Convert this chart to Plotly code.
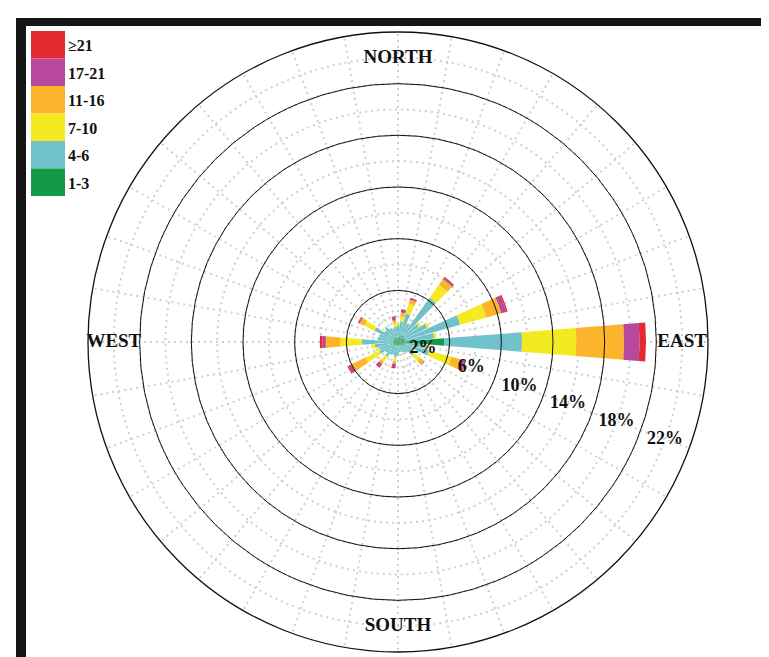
import plotly.graph_objects as go

# ---------------- data ----------------
directions = list(range(0, 360, 10))  # compass bearing, degrees
speed_classes = ["1-3", "4-6", "7-10", "11-16", "17-21", "≥21"]
class_colors = ["#139a48", "#6fc2c9", "#f4ea22", "#fbb42b", "#b8489d", "#e42a2e"]

# frequency (%) contributed by each speed class, per direction
s_1_3 = [0.4, 0.4, 0.5, 0.4, 0.6, 0.4, 0.5, 0.6, 0.5, 3.6, 0.5, 0.5,
         0.4, 0.4, 0.4, 0.3, 0.3, 0.3, 0.3, 0.3, 0.3, 0.3, 0.4, 0.4,
         0.4, 0.4, 0.4, 0.5, 0.4, 0.4, 0.4, 0.4, 0.4, 0.4, 0.4, 0.3]
s_4_6 = [0.9, 1.2, 1.8, 1.2, 3.6, 1.6, 2.0, 4.4, 2.3, 6.0, 1.7, 2.0,
         0.9, 1.1, 0.6, 0.6, 0.5, 0.5, 0.7, 0.9, 0.7, 0.8, 1.0, 0.8,
         1.2, 1.1, 1.4, 2.3, 1.2, 1.1, 1.6, 0.9, 1.0, 0.8, 0.7, 0.9]
s_7_10 = [0.2, 0.4, 0.8, 0.1, 1.25, 0.2, 0.2, 2.1, 0.2, 4.2, 0.2, 1.8,
          0.1, 0.6, 0.0, 0.0, 0.0, 0.0, 0.0, 0.3, 0.0, 0.0, 0.5, 0.0,
          1.2, 0.3, 0.3, 1.65, 0.0, 0.0, 0.9, 0.0, 0.0, 0.0, 0.0, 0.3]
s_11_16 = [0.0, 0.3, 0.3, 0.0, 0.55, 0.0, 0.0, 1.2, 0.0, 3.7, 0.0, 0.8,
           0.0, 0.4, 0.0, 0.0, 0.0, 0.0, 0.0, 0.2, 0.0, 0.0, 0.2, 0.0,
           1.2, 0.0, 0.0, 1.15, 0.0, 0.0, 0.4, 0.0, 0.0, 0.0, 0.0, 0.2]
s_17_21 = [0.0, 0.2, 0.1, 0.0, 0.15, 0.0, 0.0, 0.4, 0.0, 1.2, 0.0, 0.25,
           0.0, 0.05, 0.0, 0.0, 0.0, 0.0, 0.0, 0.25, 0.0, 0.0, 0.25, 0.0,
           0.25, 0.0, 0.0, 0.25, 0.0, 0.0, 0.1, 0.0, 0.0, 0.0, 0.0, 0.25]
s_21_up = [0.0, 0.05, 0.05, 0.0, 0.05, 0.0, 0.0, 0.1, 0.0, 0.5, 0.0, 0.1,
           0.0, 0.0, 0.0, 0.0, 0.0, 0.0, 0.0, 0.1, 0.0, 0.0, 0.1, 0.0,
           0.1, 0.0, 0.0, 0.2, 0.0, 0.0, 0.05, 0.0, 0.0, 0.0, 0.0, 0.05]
series = [s_1_3, s_4_6, s_7_10, s_11_16, s_17_21, s_21_up]

ring_labels_r = [2, 6, 10, 14, 18, 22]
ring_labels = ["2%", "6%", "10%", "14%", "18%", "22%"]
compass_labels = ["NORTH", "EAST", "SOUTH", "WEST"]
compass_theta = [0, 90, 180, 270]

# ---------------- figure ----------------
W, H = 769, 657
def px(x):
    return x / W
def py(y):
    return 1 - y / H

cx, cy, R = 390, 334, 310
dom_x = [px(cx - R), px(cx + R)]
dom_y = [py(cy + R), py(cy - R)]

fig = go.Figure()
for name, vals, col in zip(speed_classes, series, class_colors):
    fig.add_trace(go.Barpolar(
        r=vals, theta=directions, width=9, name=name,
        marker=dict(color=col, line=dict(width=0)),
        subplot="polar", showlegend=False,
    ))

serif = "Liberation Serif, Times New Roman, serif"
fig.add_trace(go.Scatterpolar(
    r=[22] * len(compass_labels), theta=compass_theta, mode="text",
    text=["<b>%s</b>" % t for t in compass_labels],
    textfont=dict(family=serif, size=19, color="#111111"),
    subplot="polar2", showlegend=False, hoverinfo="skip",
))
fig.add_trace(go.Scatterpolar(
    r=ring_labels_r, theta=[104, 109, 110, 110, 110, 110], mode="text",
    text=["<b>%s</b>" % t for t in ring_labels],
    textfont=dict(family=serif, size=18, color="#111111"),
    subplot="polar2", showlegend=False, hoverinfo="skip",
))

common_ang = dict(rotation=90, direction="clockwise", showticklabels=False, ticks="")
fig.update_layout(
    width=W, height=H,
    margin=dict(l=0, r=0, t=0, b=0),
    paper_bgcolor="white",
    polar=dict(
        domain=dict(x=dom_x, y=dom_y),
        bgcolor="white",
        barmode="stack",
        radialaxis=dict(range=[0, 24], dtick=2, showticklabels=False, ticks="",
                        showline=False, gridcolor="#cfcfcf", griddash="2px,4px", gridwidth=1.5),
        angularaxis=dict(dtick=10, showline=False, gridcolor="#cfcfcf", griddash="2px,4px",
                         gridwidth=1.5, **common_ang),
    ),
    polar2=dict(
        domain=dict(x=dom_x, y=dom_y),
        bgcolor="rgba(0,0,0,0)",
        radialaxis=dict(range=[0, 24], tickvals=[4, 8, 12, 16, 20], showticklabels=False,
                        ticks="", showline=False, gridcolor="#111111", gridwidth=1.3),
        angularaxis=dict(showgrid=False, showline=True, linecolor="#111111",
                         linewidth=1.3, **common_ang),
    ),
)

shapes = []
# frame
shapes.append(dict(type="rect", xref="paper", yref="paper", x0=px(8), x1=px(18), y0=py(655), y1=py(10),
                   fillcolor="#151515", line=dict(width=0)))
shapes.append(dict(type="rect", xref="paper", yref="paper", x0=px(8), x1=px(769), y0=py(18), y1=py(10),
                   fillcolor="#151515", line=dict(width=0)))
shapes.append(dict(type="rect", xref="paper", yref="paper", x0=px(8), x1=px(769), y0=py(655), y1=py(651),
                   fillcolor="#2a2222", line=dict(width=0)))
# legend boxes
annotations = []
top, bh = 23, 27.5
for i, (name, col) in enumerate(reversed(list(zip(speed_classes, class_colors)))):
    y0 = top + i * bh
    shapes.append(dict(type="rect", xref="paper", yref="paper", x0=px(23), x1=px(57),
                       y0=py(y0 + bh), y1=py(y0), fillcolor=col, line=dict(width=0)))
    annotations.append(dict(xref="paper", yref="paper", x=px(58), y=py(y0 + bh / 2 + 1),
                            xanchor="left", yanchor="middle", showarrow=False,
                            text="<b>%s</b>" % name,
                            font=dict(family=serif, size=16, color="#111111")))
fig.update_layout(shapes=shapes, annotations=annotations)

fig.write_html("out.html")
